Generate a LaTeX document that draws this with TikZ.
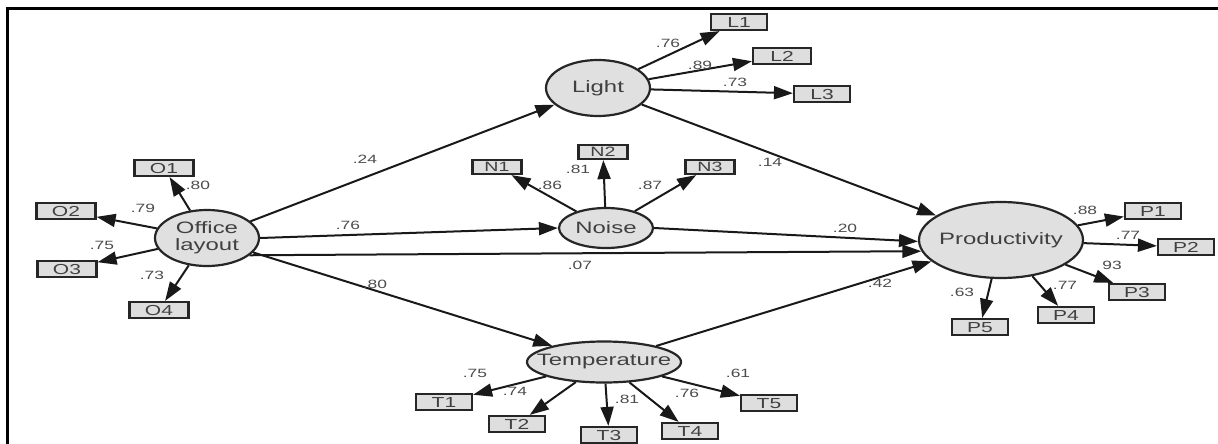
\documentclass[tikz,border=0pt]{standalone}
\usepackage{fontspec}
\setmainfont[FakeStretch=1.45]{Liberation Sans}
\usetikzlibrary{shapes.geometric,arrows.meta}
\newcommand{\zw}[1]{\makebox[0pt]{#1}}
\begin{document}
\begin{tikzpicture}[x=1pt,y=-1pt,
 lat/.style={ellipse,draw=black!85,line width=2.2pt,fill=black!12,inner sep=0pt,font=\fontsize{16.5}{17}\selectfont,text=black!75,align=center},
 ind/.style={rectangle,draw=black!85,line width=2.2pt,fill=black!13,inner sep=0pt,minimum height=16pt,minimum width=56pt,text height=10.4pt,text depth=0pt,font=\fontsize{14.5}{14}\selectfont,text=black!75},
 arr/.style={-{Triangle[length=19pt,width=13pt]},line width=2pt,draw=black!90},
 lbl/.style={font=\fontsize{12}{12}\selectfont,text=black!70,inner sep=0pt}]
\useasboundingbox (0,0) rectangle (1218,444);
\draw[line width=3pt] (7,446) |- (1219,9);
% latent variables
\node[lat,minimum width=104pt,minimum height=56pt] (O) at (207,238) {Office\\layout};
\node[lat,minimum width=104pt,minimum height=56pt] (L) at (598,88) {\zw{Light}};
\node[lat,minimum width=94pt,minimum height=40pt] (N) at (606,228) {\zw{Noise}};
\node[lat,minimum width=164pt,minimum height=76pt] (P) at (1001,240) {\zw{Productivity}};
\node[lat,minimum width=154pt,minimum height=41pt] (T) at (604,362) {\zw{Temperature}};
% indicators
\node[ind,minimum width=59pt] (O1) at (164,168) {O1};
\node[ind,minimum width=59pt] (O2) at (66,211) {O2};
\node[ind,minimum width=59pt] (O3) at (67,269) {O3};
\node[ind,minimum width=59pt] (O4) at (159,310) {O4};
\node[ind] (L1) at (739,22) {L1};
\node[ind,minimum width=58pt] (L2) at (782,56) {L2};
\node[ind] (L3) at (822,94) {L3};
\node[ind,minimum width=49pt,minimum height=14pt,text height=9.6pt,font=\fontsize{13.5}{13}\selectfont] (N1) at (497,167) {N1};
\node[ind,minimum width=49pt,minimum height=14pt,text height=9.6pt,font=\fontsize{13.5}{13}\selectfont] (N2) at (603,152) {N2};
\node[ind,minimum width=49pt,minimum height=14pt,text height=9.6pt,font=\fontsize{13.5}{13}\selectfont] (N3) at (710,167) {N3};
\node[ind] (P1) at (1153,211) {P1};
\node[ind] (P2) at (1186,247) {P2};
\node[ind] (P3) at (1137,292) {P3};
\node[ind] (P4) at (1066,315) {P4};
\node[ind] (P5) at (980,327) {P5};
\node[ind] (T1) at (444,402) {T1};
\node[ind] (T2) at (517,424) {T2};
\node[ind] (T3) at (609,435) {T3};
\node[ind] (T4) at (690,431) {T4};
\node[ind] (T5) at (769,403) {T5};
% structural paths
\draw[arr] (O) -- (L);
\draw[arr] (O.0) -- (N.180);
\draw[arr] (O.-22) -- (P.-172);
\draw[arr] (O) -- (T);
\draw[arr] (L) -- (P);
\draw[arr] (N.0) -- (P.181);
\draw[arr] (T) -- (P);
% measurement paths
\foreach \i in {1,2,3,4} \draw[arr] (O) -- (O\i);
\foreach \i in {1,2,3} \draw[arr] (L) -- (L\i);
\foreach \i in {1,2,3} \draw[arr] (N) -- (N\i);
\foreach \i in {1,2,3,4,5} \draw[arr] (P) -- (P\i);
\foreach \i in {1,2,3,4,5} \draw[arr] (T) -- (T\i);
% labels
\node[lbl] (lo1) at (198,185) {.80};
\node[lbl] (lo2) at (143,208) {.79};
\node[lbl] (lo3) at (102,245) {.75};
\node[lbl] (lo4) at (152,275) {.73};
\node[lbl] (ll1) at (668,43) {.76};
\node[lbl] (ll2) at (700,65) {.89};
\node[lbl] (ll3) at (735,82) {.73};
\node[lbl] (ln1) at (550,185) {.86};
\node[lbl] (ln2) at (578,169) {.81};
\node[lbl] (ln3) at (650,185) {.87};
\node[lbl] (lp1) at (1085,210) {.88};
\node[lbl] (lp2) at (1128,235) {.77};
\node[lbl] (lp3) at (1112,265) {93};
\node[lbl] (lp4) at (1065,285) {.77};
\node[lbl] (lp5) at (962,292) {.63};
\node[lbl] (lt1) at (475,373) {.75};
\node[lbl] (lt2) at (515,391) {.74};
\node[lbl] (lt3) at (627,399) {.81};
\node[lbl] (lt4) at (687,393) {.76};
\node[lbl] (lt5) at (738,373) {.61};
\node[lbl] (lol) at (365,159) {.24};
\node[lbl] (lon) at (348,225) {.76};
\node[lbl] (lot) at (375,284) {.80};
\node[lbl] (lop) at (580,265) {.07};
\node[lbl] (llp) at (770,162) {.14};
\node[lbl] (lnp) at (845,228) {.20};
\node[lbl] (ltp) at (880,283) {.42};
\end{tikzpicture}
\end{document}
